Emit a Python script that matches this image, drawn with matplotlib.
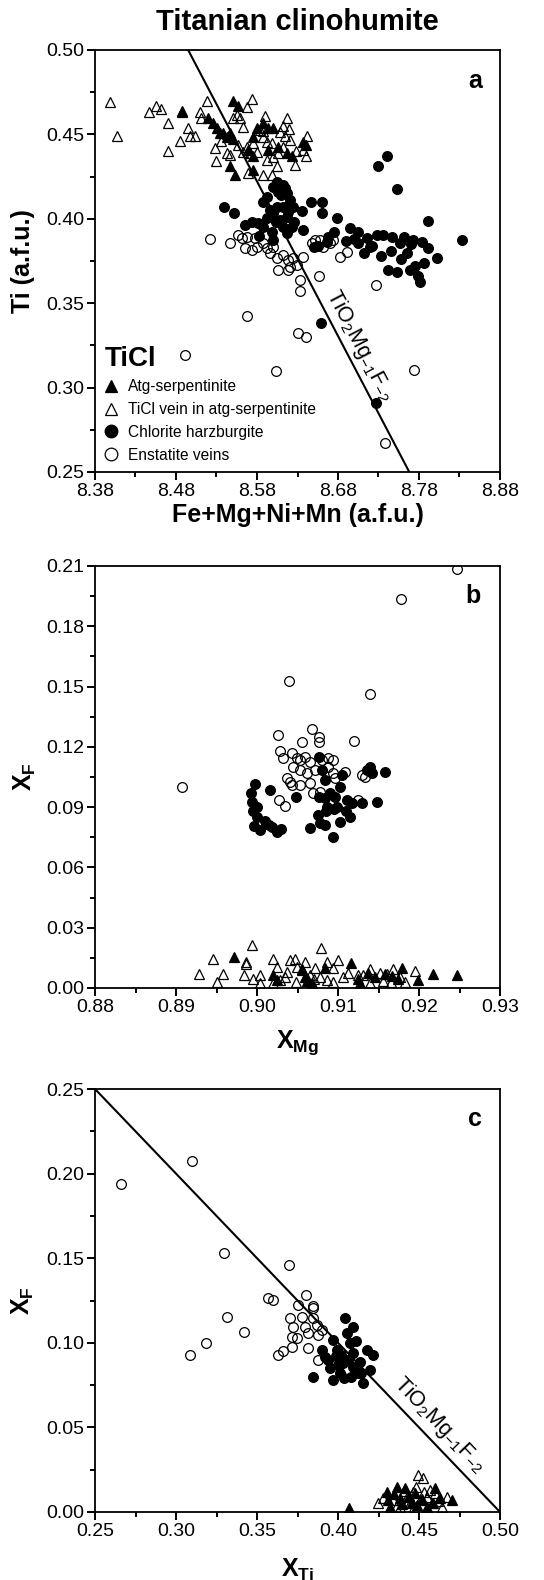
import matplotlib
matplotlib.use("Agg")
import matplotlib.pyplot as plt
from matplotlib.ticker import MultipleLocator, FormatStrFormatter

plt.rcParams['font.family'] = ['Liberation Sans', 'DejaVu Sans']
plt.rcParams['mathtext.fontset'] = 'custom'
plt.rcParams['mathtext.rm'] = 'Liberation Sans'
plt.rcParams['mathtext.bf'] = 'Liberation Sans:bold'
plt.rcParams['mathtext.it'] = 'Liberation Sans:italic'
plt.rcParams['mathtext.default'] = 'regular'

# ---- panel a : Ti vs Fe+Mg+Ni+Mn ----
a_atg_x = [8.487, 8.520, 8.526, 8.531, 8.538, 8.543, 8.534, 8.547, 8.553, 8.550, 8.557, 8.575, 8.580, 8.587,
           8.594, 8.600, 8.575, 8.569, 8.594, 8.606, 8.617, 8.623, 8.637, 8.640, 8.547, 8.550, 8.575]
a_atg_y = [0.464, 0.460, 0.457, 0.454, 0.451, 0.4485, 0.451, 0.431, 0.426, 0.470, 0.467, 0.4485, 0.454, 0.457,
           0.454, 0.454, 0.437, 0.441, 0.441, 0.4425, 0.439, 0.437, 0.4455, 0.444, 0.451, 0.447, 0.429]

a_vein_x = [8.399, 8.407, 8.447, 8.455, 8.461, 8.470, 8.470, 8.485, 8.495, 8.497, 8.503, 8.510, 8.511, 8.518,
            8.574, 8.568, 8.590, 8.617, 8.642, 8.615, 8.612, 8.637, 8.640, 8.627, 8.605, 8.598, 8.587, 8.569,
            8.529, 8.528, 8.543, 8.547, 8.550, 8.555, 8.559, 8.563, 8.584, 8.587, 8.592, 8.598, 8.563, 8.571,
            8.580, 8.568, 8.592, 8.600, 8.606, 8.575, 8.587, 8.608, 8.621, 8.487, 8.535, 8.556, 8.612, 8.628,
            8.620]
a_vein_y = [0.469, 0.449, 0.463, 0.467, 0.465, 0.457, 0.440, 0.446, 0.454, 0.449, 0.449, 0.463, 0.460, 0.470,
            0.471, 0.466, 0.461, 0.460, 0.449, 0.449, 0.4425, 0.441, 0.437, 0.432, 0.431, 0.426, 0.426, 0.427,
            0.434, 0.442, 0.439, 0.438, 0.460, 0.4615, 0.460, 0.4545, 0.4525, 0.4485, 0.4455, 0.445, 0.4395, 0.439,
            0.4395, 0.4425, 0.435, 0.4365, 0.439, 0.445, 0.452, 0.4515, 0.4465, 0.4635, 0.446, 0.444, 0.455, 0.440,
            0.453]

a_chl_x = [8.539, 8.552, 8.565, 8.574, 8.581, 8.587, 8.592, 8.600, 8.605, 8.612, 8.617, 8.621, 8.624, 8.612,
           8.605, 8.600, 8.592, 8.608, 8.617, 8.623, 8.617, 8.600, 8.635, 8.637, 8.647, 8.660, 8.660, 8.679,
           8.695, 8.705, 8.716, 8.728, 8.736, 8.747, 8.757, 8.773, 8.784, 8.791, 8.802, 8.729, 8.740, 8.753,
           8.791, 8.833, 8.705, 8.719, 8.659, 8.727, 8.742, 8.753, 8.769, 8.781,
           8.700, 8.712, 8.722, 8.733, 8.745, 8.758, 8.765, 8.775, 8.786, 8.779, 8.770, 8.762, 8.690, 8.666,
           8.650, 8.610, 8.603, 8.618, 8.598, 8.612, 8.588, 8.583, 8.655, 8.668, 8.675,
           8.606, 8.614, 8.620, 8.596, 8.626]
a_chl_y = [0.407, 0.4035, 0.3965, 0.398, 0.3975, 0.410, 0.413, 0.419, 0.422, 0.420, 0.4155, 0.411, 0.407, 0.407,
           0.407, 0.4035, 0.4005, 0.399, 0.401, 0.395, 0.3915, 0.3875, 0.4045, 0.3935, 0.410, 0.410, 0.4035, 0.4005,
           0.3945, 0.392, 0.3885, 0.3905, 0.3905, 0.389, 0.3855, 0.3875, 0.3865, 0.3825, 0.377, 0.4315, 0.437, 0.4175,
           0.3985, 0.3875, 0.3855, 0.3835, 0.3385, 0.291, 0.3695, 0.3685, 0.3695, 0.3625,
           0.388, 0.380, 0.384, 0.378, 0.381, 0.376, 0.380, 0.372, 0.374, 0.366, 0.385, 0.389, 0.387, 0.386,
           0.383, 0.414, 0.398, 0.404, 0.392, 0.395, 0.395, 0.390, 0.384, 0.389, 0.392,
           0.416, 0.418, 0.408, 0.405, 0.398]

a_ens_x = [8.522, 8.547, 8.5565, 8.5615, 8.568, 8.5775, 8.565, 8.574, 8.580, 8.587, 8.592, 8.600, 8.596, 8.605,
           8.612, 8.618, 8.624, 8.621, 8.629, 8.637, 8.648, 8.652, 8.658, 8.662, 8.670, 8.674, 8.683, 8.691,
           8.606, 8.618, 8.633, 8.633, 8.657, 8.727, 8.568, 8.631, 8.640, 8.491, 8.603, 8.774, 8.738]
a_ens_y = [0.388, 0.3855, 0.3905, 0.3885, 0.389, 0.3885, 0.3825, 0.3815, 0.3835, 0.3855, 0.3825, 0.3835, 0.3795, 0.377,
           0.3785, 0.3755, 0.377, 0.3715, 0.3725, 0.3775, 0.3855, 0.3875, 0.3875, 0.3835, 0.3855, 0.3875, 0.3775, 0.3805,
           0.3695, 0.3695, 0.3635, 0.357, 0.366, 0.361, 0.3425, 0.3325, 0.330, 0.3195, 0.310, 0.3105, 0.267]

# ---- panel b : XF vs XMg ----
b_atg_x = [0.8972, 0.902, 0.9025, 0.9056, 0.9059, 0.9063, 0.9068, 0.9084, 0.9116, 0.9125, 0.9127, 0.9137,
           0.9146, 0.9158, 0.9167, 0.9174, 0.9179, 0.9199, 0.9217, 0.9247]
b_atg_y = [0.0154, 0.0065, 0.004, 0.0095, 0.0055, 0.004, 0.0025, 0.010, 0.0124, 0.0045, 0.0025, 0.0075,
           0.0055, 0.007, 0.006, 0.0045, 0.010, 0.004, 0.007, 0.0065]

b_vein_x = [0.8928, 0.8946, 0.895, 0.8958, 0.8984, 0.8986, 0.8987, 0.8994, 0.8995, 0.9004, 0.9004, 0.902,
            0.9025, 0.902, 0.9028, 0.9035, 0.9037, 0.9041, 0.9047, 0.9049, 0.9056, 0.9059, 0.9065, 0.9072,
            0.9079, 0.9086, 0.9094, 0.910, 0.9106, 0.9112, 0.9094, 0.9078, 0.9086, 0.9125, 0.9131, 0.914,
            0.9152, 0.916, 0.9168, 0.9177, 0.9183, 0.9195, 0.9062, 0.9070, 0.9048, 0.9165, 0.9155, 0.9140]
b_vein_y = [0.007, 0.0144, 0.003, 0.007, 0.0065, 0.012, 0.013, 0.0214, 0.0045, 0.0065, 0.0025, 0.0144,
            0.0105, 0.0025, 0.004, 0.0055, 0.008, 0.014, 0.0144, 0.0105, 0.009, 0.013, 0.0065, 0.010,
            0.020, 0.013, 0.010, 0.014, 0.0055, 0.0075, 0.003, 0.0055, 0.004, 0.0065, 0.0065, 0.0095,
            0.0075, 0.007, 0.0095, 0.0055, 0.003, 0.0085, 0.0035, 0.0045, 0.003, 0.003, 0.0035, 0.0025]

b_chl_x = [0.8998, 0.8994, 0.900, 0.9016, 0.9048, 0.9076, 0.908, 0.9084, 0.914, 0.9136, 0.9142, 0.9158,
           0.9148, 0.9105, 0.9102, 0.9076, 0.9084, 0.909, 0.9096, 0.9111, 0.9117, 0.913, 0.9086, 0.9099,
           0.8996, 0.9004, 0.9019, 0.9025, 0.9065, 0.9078, 0.9084, 0.9094, 0.9102, 0.8992, 0.8995, 0.900,
           0.901, 0.9015, 0.903, 0.9075, 0.9085, 0.9095, 0.911, 0.9115]
b_chl_y = [0.1015, 0.0926, 0.0901, 0.0985, 0.095, 0.115, 0.1085, 0.1035, 0.110, 0.1085, 0.107, 0.1075,
           0.0926, 0.106, 0.100, 0.095, 0.0946, 0.097, 0.095, 0.0936, 0.0921, 0.0921, 0.0901, 0.0901,
           0.0806, 0.0786, 0.0801, 0.0776, 0.0796, 0.0821, 0.0811, 0.0751, 0.0826, 0.097, 0.088, 0.085,
           0.083, 0.081, 0.079, 0.086, 0.088, 0.089, 0.088, 0.085]

b_ens_x = [0.9247, 0.9178, 0.904, 0.9139, 0.8907, 0.9026, 0.9068, 0.9076, 0.9077, 0.9055, 0.912, 0.9028,
           0.9032, 0.9043, 0.9049, 0.9053, 0.9059, 0.9065, 0.9044, 0.9053, 0.9062, 0.9072, 0.908, 0.9088,
           0.9094, 0.9088, 0.9094, 0.9109, 0.9037, 0.9041, 0.9043, 0.9053, 0.9065, 0.9069, 0.9078, 0.9096,
           0.913, 0.9133, 0.9027, 0.9035, 0.9125]
b_ens_y = [0.2085, 0.1936, 0.1528, 0.1463, 0.100, 0.1259, 0.1289, 0.1249, 0.1224, 0.1224, 0.1229, 0.1179,
           0.1145, 0.1169, 0.1145, 0.1135, 0.115, 0.1125, 0.110, 0.1085, 0.107, 0.1085, 0.1135, 0.1145,
           0.1135, 0.110, 0.107, 0.1075, 0.1045, 0.1025, 0.101, 0.101, 0.102, 0.097, 0.0975, 0.1045,
           0.106, 0.105, 0.0936, 0.0906, 0.0936]

# ---- panel c : XF vs XTi ----
c_atg_x = [0.4068, 0.4302, 0.4364, 0.4414, 0.4475, 0.4309, 0.4383, 0.4599, 0.4704, 0.4321, 0.4488, 0.4549,
           0.463, 0.4345, 0.4440, 0.4520, 0.4395, 0.4455, 0.4580]
c_atg_y = [0.0024, 0.0118, 0.0148, 0.0142, 0.0112, 0.0071, 0.0083, 0.0142, 0.0071, 0.003, 0.0041, 0.003,
           0.0083, 0.0105, 0.0095, 0.0075, 0.0045, 0.006, 0.0055]

c_vein_x = [0.4494, 0.4525, 0.4247, 0.4278, 0.434, 0.4426, 0.4463, 0.4506, 0.4549, 0.4586, 0.4642, 0.4673,
            0.4568, 0.4444, 0.4383, 0.4410, 0.4480, 0.4600, 0.4530, 0.4360, 0.4470, 0.4620]
c_vein_y = [0.0219, 0.0201, 0.0053, 0.0083, 0.0071, 0.0089, 0.0118, 0.0071, 0.0089, 0.0053, 0.003, 0.0089,
            0.013, 0.0053, 0.003, 0.0125, 0.0150, 0.0110, 0.0120, 0.0030, 0.0030, 0.0065]

c_chl_x = [0.3846, 0.4043, 0.4093, 0.4056, 0.4074, 0.3969, 0.3994, 0.3938, 0.395, 0.3969, 0.4012, 0.4031,
           0.4093, 0.4093, 0.4136, 0.4123, 0.4154, 0.4179, 0.4216, 0.4198, 0.3901, 0.392,
           0.4020, 0.4060, 0.4000, 0.4110, 0.4080, 0.4040, 0.3985, 0.4140]
c_chl_y = [0.0798, 0.1147, 0.1093, 0.1058, 0.0999, 0.1017, 0.0957, 0.0898, 0.0851, 0.078, 0.0822, 0.0881,
           0.094, 0.0857, 0.0887, 0.0822, 0.0762, 0.0957, 0.0928, 0.0839, 0.0957, 0.0916,
           0.0930, 0.0900, 0.0870, 0.1010, 0.0800, 0.0790, 0.0920, 0.0820]

c_ens_x = [0.266, 0.3099, 0.3296, 0.3698, 0.3568, 0.3599, 0.3802, 0.3753, 0.3846, 0.3086, 0.3185, 0.3315,
           0.342, 0.363, 0.366, 0.3716, 0.3716, 0.3704, 0.3722, 0.3747, 0.3778, 0.3796, 0.3815, 0.3815,
           0.3846, 0.387, 0.3877, 0.3877, 0.3901, 0.3846]
c_ens_y = [0.1939, 0.2074, 0.1531, 0.146, 0.1265, 0.1253, 0.1282, 0.1223, 0.1217, 0.0928, 0.0999, 0.1152,
           0.1064, 0.0928, 0.0952, 0.0975, 0.1034, 0.1147, 0.1093, 0.1028, 0.1152, 0.1093, 0.1058, 0.0969,
           0.1206, 0.1105, 0.1046, 0.0898, 0.1076, 0.1147]

# substitution vector lines
line_a_x = [8.495, 8.768]
line_a_y = [0.50, 0.25]
line_c_x = [0.25, 0.50]
line_c_y = [0.25, 0.00]

labels = ['Atg-serpentinite', 'TiCl vein in atg-serpentinite', 'Chlorite harzburgite', 'Enstatite veins']
vec_label = r'TiO$_2$Mg$_{-1}$F$_{-2}$'

fig = plt.figure(figsize=(5.44, 15.8), dpi=100)
W, H = 544.0, 1580.0


def make_axes(top, bottom):
    return fig.add_axes([95 / W, 1 - bottom / H, 405 / W, (bottom - top) / H])


def style(ax, xlim, ylim, xmaj, ymaj, xoff=0.0):
    ax.set_xlim(*xlim)
    ax.set_ylim(*ylim)
    ax.xaxis.set_major_locator(MultipleLocator(xmaj, offset=xoff))
    ax.xaxis.set_minor_locator(MultipleLocator(xmaj / 2, offset=xoff))
    ax.yaxis.set_major_locator(MultipleLocator(ymaj))
    ax.yaxis.set_minor_locator(MultipleLocator(ymaj / 2))
    ax.xaxis.set_major_formatter(FormatStrFormatter('%.2f'))
    ax.yaxis.set_major_formatter(FormatStrFormatter('%.2f'))
    ax.tick_params(which='both', direction='out', width=1.4, labelsize=14, pad=2,
                   top=False, right=False)
    ax.tick_params(which='major', length=6)
    ax.tick_params(which='minor', length=3.5)
    for s in ax.spines.values():
        s.set_linewidth(1.3)


def draw(ax, atg_x, atg_y, vein_x, vein_y, chl_x, chl_y, ens_x, ens_y):
    kw = dict(linestyle='none', markersize=7, markeredgewidth=0.9, markeredgecolor='black')
    h2, = ax.plot(vein_x, vein_y, marker='^', markerfacecolor='none', zorder=2, **kw)
    h4, = ax.plot(ens_x, ens_y, marker='o', markerfacecolor='none', zorder=2, **kw)
    h1, = ax.plot(atg_x, atg_y, marker='^', markerfacecolor='black', zorder=3, **kw)
    h3, = ax.plot(chl_x, chl_y, marker='o', markerfacecolor='black', zorder=3, **kw)
    return [h1, h2, h3, h4]


# panel a
ax1 = make_axes(50, 472)
handles = draw(ax1, a_atg_x, a_atg_y, a_vein_x, a_vein_y, a_chl_x, a_chl_y, a_ens_x, a_ens_y)
ax1.plot(line_a_x, line_a_y, color='black', lw=1.5, zorder=1)
style(ax1, (8.38, 8.88), (0.25, 0.50), 0.1, 0.05, xoff=0.08)
ax1.set_xlabel('Fe+Mg+Ni+Mn (a.f.u.)', fontsize=18, fontweight='bold')
ax1.set_ylabel('Ti (a.f.u.)', fontsize=18, fontweight='bold')
ax1.xaxis.set_label_coords(0.5, -0.073)
ax1.yaxis.set_label_coords(-0.148, 0.5)
ax1.text(8.707, 0.325, vec_label, fontsize=15.5, rotation=-62.4, ha='center', va='center')
ax1.text(0.938, 0.927, 'a', transform=ax1.transAxes, fontsize=18, fontweight='bold',
         ha='center', va='center')
leg = ax1.legend(handles, labels, loc='lower left', bbox_to_anchor=(0.0, 0.0), frameon=False,
                 fontsize=11.2, title='TiCl', alignment='left', markerscale=1.3,
                 handlelength=0.8, handletextpad=0.7, labelspacing=0.5, borderpad=0.3,
                 borderaxespad=0.3)
leg.get_title().set_fontsize(20)
leg.get_title().set_fontweight('bold')

# panel b
ax2 = make_axes(566, 988)
draw(ax2, b_atg_x, b_atg_y, b_vein_x, b_vein_y, b_chl_x, b_chl_y, b_ens_x, b_ens_y)
style(ax2, (0.88, 0.93), (0.0, 0.21), 0.01, 0.03)
ax2.set_xlabel(r'$\mathbf{X_{Mg}}$', fontsize=18)
ax2.set_ylabel(r'$\mathbf{X_F}$', fontsize=18)
ax2.xaxis.set_label_coords(0.5, -0.095)
ax2.yaxis.set_label_coords(-0.14, 0.5)
ax2.text(0.933, 0.929, 'b', transform=ax2.transAxes, fontsize=18, fontweight='bold',
         ha='center', va='center')

# panel c
ax3 = make_axes(1089, 1512)
draw(ax3, c_atg_x, c_atg_y, c_vein_x, c_vein_y, c_chl_x, c_chl_y, c_ens_x, c_ens_y)
ax3.plot(line_c_x, line_c_y, color='black', lw=1.5, zorder=1)
style(ax3, (0.25, 0.50), (0.0, 0.25), 0.05, 0.05)
ax3.set_xlabel(r'$\mathbf{X_{Ti}}$', fontsize=18)
ax3.set_ylabel(r'$\mathbf{X_F}$', fontsize=18)
ax3.xaxis.set_label_coords(0.5, -0.105)
ax3.yaxis.set_label_coords(-0.145, 0.5)
ax3.text(0.463, 0.0514, vec_label, fontsize=15.5, rotation=-46.2, ha='center', va='center')
ax3.text(0.938, 0.929, 'c', transform=ax3.transAxes, fontsize=18, fontweight='bold',
         ha='center', va='center')

fig.text(297 / W, 1 - 22 / H, 'Titanian clinohumite', fontsize=21, fontweight='bold',
         ha='center', va='center')

fig.savefig('out.png', dpi=100)
